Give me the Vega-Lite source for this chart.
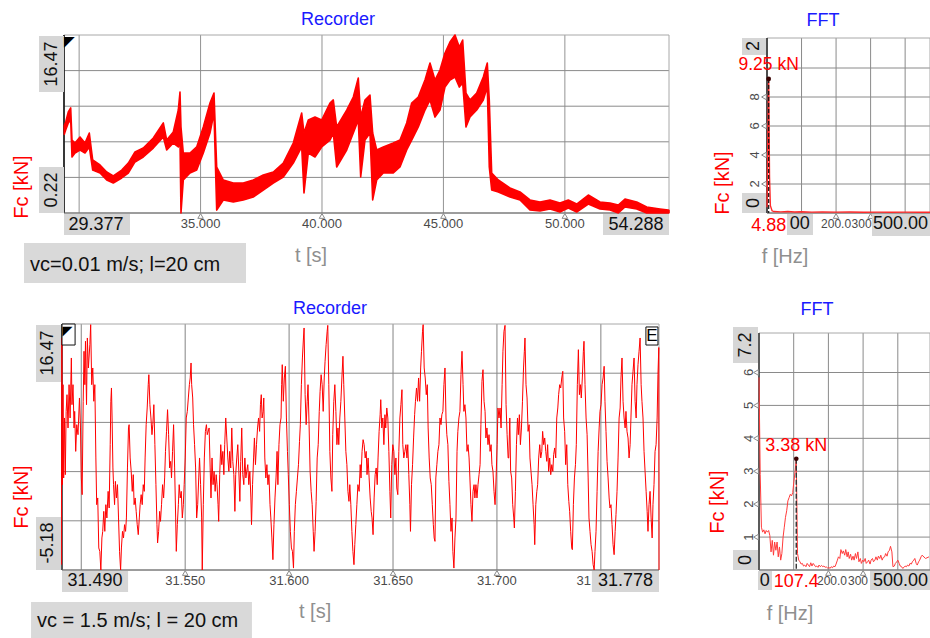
{
  "$schema": "https://vega.github.io/schema/vega-lite/v6.json",
  "width": 930,
  "height": 638,
  "autosize": "none",
  "padding": 0,
  "background": "white",
  "config": {
    "view": {"stroke": null},
    "font": "Liberation Sans"
  },
  "data": {"values": [{}]},
  "datasets": {
    "rec1": [
      {"t":29.390,"lo":7.40,"hi":8.20},{"t":29.447,"lo":7.80,"hi":8.53},{"t":29.554,"lo":8.44,"hi":9.44},{"t":29.653,"lo":8.71,"hi":9.81},
      {"t":29.706,"lo":5.33,"hi":6.88},{"t":29.830,"lo":5.70,"hi":6.61},{"t":30.036,"lo":5.97,"hi":7.16},{"t":30.242,"lo":5.70,"hi":6.61},
      {"t":30.419,"lo":6.25,"hi":7.52},{"t":30.559,"lo":4.14,"hi":5.06},{"t":30.859,"lo":3.87,"hi":4.60},{"t":31.135,"lo":3.23,"hi":3.96},
      {"t":31.407,"lo":2.96,"hi":3.60},{"t":31.753,"lo":3.42,"hi":4.14},{"t":32.024,"lo":3.87,"hi":4.78},{"t":32.300,"lo":4.88,"hi":5.79},
      {"t":32.642,"lo":5.33,"hi":6.15},{"t":33.054,"lo":6.15,"hi":7.07},{"t":33.466,"lo":7.16,"hi":8.44},{"t":33.606,"lo":5.97,"hi":6.88},
      {"t":33.877,"lo":6.61,"hi":7.61},{"t":34.083,"lo":6.25,"hi":9.62},{"t":34.153,"lo":6.88,"hi":11.27},{"t":34.194,"lo":0.22,"hi":8.07},
      {"t":34.289,"lo":3.23,"hi":5.70},{"t":34.565,"lo":3.87,"hi":5.70},{"t":34.841,"lo":4.14,"hi":6.25},{"t":35.113,"lo":5.70,"hi":8.07},
      {"t":35.388,"lo":7.52,"hi":10.26},{"t":35.553,"lo":9.35,"hi":11.17},{"t":35.664,"lo":0.49,"hi":4.42},{"t":35.936,"lo":1.41,"hi":3.23},
      {"t":36.348,"lo":1.22,"hi":2.96},{"t":36.759,"lo":1.41,"hi":2.96},{"t":37.171,"lo":1.68,"hi":3.23},{"t":37.583,"lo":2.32,"hi":3.69},
      {"t":37.995,"lo":2.96,"hi":3.96},{"t":38.406,"lo":3.51,"hi":4.78},{"t":38.818,"lo":4.78,"hi":6.61},{"t":39.164,"lo":6.25,"hi":9.35},
      {"t":39.259,"lo":2.05,"hi":7.52},{"t":39.436,"lo":5.70,"hi":8.71},{"t":39.712,"lo":5.33,"hi":8.98},{"t":39.987,"lo":6.25,"hi":8.71},
      {"t":40.329,"lo":6.88,"hi":10.26},{"t":40.465,"lo":7.52,"hi":10.54},{"t":40.605,"lo":4.42,"hi":8.07},{"t":41.017,"lo":5.97,"hi":9.62},
      {"t":41.289,"lo":7.52,"hi":10.81},{"t":41.494,"lo":8.71,"hi":12.54},{"t":41.593,"lo":3.51,"hi":8.98},{"t":41.770,"lo":6.88,"hi":10.54},
      {"t":41.976,"lo":7.52,"hi":10.99},{"t":42.087,"lo":1.41,"hi":7.52},{"t":42.252,"lo":3.23,"hi":5.97},{"t":42.524,"lo":3.87,"hi":6.25},
      {"t":42.935,"lo":3.87,"hi":6.61},{"t":43.211,"lo":4.42,"hi":6.88},{"t":43.487,"lo":5.97,"hi":8.44},{"t":43.693,"lo":6.88,"hi":10.26},
      {"t":43.965,"lo":8.07,"hi":10.81},{"t":44.241,"lo":9.62,"hi":12.36},{"t":44.447,"lo":10.54,"hi":13.91},{"t":44.652,"lo":8.98,"hi":12.36},
      {"t":44.858,"lo":9.62,"hi":13.27},{"t":45.064,"lo":11.72,"hi":14.83},{"t":45.270,"lo":12.36,"hi":15.83},{"t":45.476,"lo":12.64,"hi":16.47},
      {"t":45.653,"lo":11.72,"hi":15.37},{"t":45.793,"lo":12.09,"hi":16.01},{"t":45.929,"lo":8.07,"hi":11.17},{"t":46.094,"lo":8.98,"hi":10.54},
      {"t":46.370,"lo":9.62,"hi":11.17},{"t":46.641,"lo":10.54,"hi":12.64},{"t":46.806,"lo":11.72,"hi":13.91},{"t":46.888,"lo":4.42,"hi":10.54},
      {"t":46.987,"lo":2.32,"hi":3.87},{"t":47.259,"lo":2.14,"hi":3.23},{"t":47.741,"lo":1.68,"hi":2.50},{"t":48.153,"lo":1.41,"hi":2.14},
      {"t":48.564,"lo":0.49,"hi":1.41},{"t":48.976,"lo":0.40,"hi":1.22},{"t":49.388,"lo":0.59,"hi":1.41},{"t":49.799,"lo":0.31,"hi":1.13},
      {"t":50.141,"lo":0.68,"hi":1.41},{"t":50.487,"lo":0.31,"hi":1.04},{"t":50.965,"lo":1.04,"hi":1.86},{"t":51.446,"lo":0.59,"hi":1.22},
      {"t":51.858,"lo":0.49,"hi":1.13},{"t":52.200,"lo":0.22,"hi":0.95},{"t":52.476,"lo":0.77,"hi":1.50},{"t":52.958,"lo":0.59,"hi":1.22},
      {"t":53.369,"lo":0.22,"hi":0.77},{"t":53.917,"lo":0.22,"hi":0.59},{"t":54.259,"lo":0.22,"hi":0.49},{"t":54.288,"lo":0.25,"hi":0.45}
    ],
    "fft1": [
      {"f":0,"amp":0.4},{"f":2.44,"amp":5.0},{"f":4.88,"amp":9.25},{"f":7.32,"amp":2.5},{"f":9.77,"amp":0.5},{"f":14.65,"amp":0.15},
      {"f":20,"amp":0.1},{"f":40,"amp":0.08},{"f":60,"amp":0.1},{"f":80,"amp":0.07},{"f":100,"amp":0.09},{"f":130,"amp":0.06},
      {"f":160,"amp":0.08},{"f":200,"amp":0.06},{"f":240,"amp":0.07},{"f":280,"amp":0.05},{"f":320,"amp":0.06},{"f":360,"amp":0.05},
      {"f":400,"amp":0.06},{"f":440,"amp":0.05},{"f":472,"amp":0.05}
    ],
    "cur1": [{"f":4.88,"amp":9.25,"base":0,"label":"9.25 kN"}],
    "cur2": [{"f":107.4,"amp":3.38,"base":0,"label":"3.38 kN"}],
    "fft2": [
      {"f":0,"amp":5.85},{"f":3.5,"amp":2.9},{"f":7,"amp":1.3},{"f":10.4,"amp":1.15},{"f":13.9,"amp":1.22},{"f":17.4,"amp":1.1},
      {"f":20.8,"amp":1.2},{"f":24.3,"amp":1.15},{"f":27.8,"amp":1.2},{"f":31.2,"amp":1.05},{"f":34.7,"amp":0.55},{"f":38.2,"amp":0.9},
      {"f":41.7,"amp":0.45},{"f":45.1,"amp":0.85},{"f":48.6,"amp":0.6},{"f":52.1,"amp":0.85},{"f":55.5,"amp":0.4},{"f":59,"amp":0.7},
      {"f":62.5,"amp":0.3},{"f":65.9,"amp":0.5},{"f":69.4,"amp":1.0},{"f":72.9,"amp":1.3},{"f":76.3,"amp":1.6},{"f":79.8,"amp":1.8},
      {"f":83.3,"amp":2.1},{"f":86.8,"amp":2.2},{"f":90.2,"amp":2.3},{"f":93.7,"amp":2.25},{"f":97.2,"amp":2.35},{"f":100.6,"amp":2.7},
      {"f":104.1,"amp":3.0},{"f":107.4,"amp":3.38},{"f":111,"amp":0.5},{"f":114.5,"amp":0.3},{"f":118,"amp":0.25},{"f":121.4,"amp":0.18},
      {"f":124.9,"amp":0.2},{"f":128.4,"amp":0.12},{"f":131.8,"amp":0.15},{"f":135.3,"amp":0.1},{"f":138.8,"amp":0.2},{"f":142.2,"amp":0.15},
      {"f":145.7,"amp":0.1},{"f":149.2,"amp":0.22},{"f":152.6,"amp":0.12},{"f":156.1,"amp":0.2},{"f":159.6,"amp":0.15},{"f":163,"amp":0.1},
      {"f":166.5,"amp":0.12},{"f":170,"amp":0.08},{"f":173,"amp":0.15},{"f":177,"amp":0.1},{"f":180,"amp":0.14},{"f":184,"amp":0.1},
      {"f":187,"amp":0.12},{"f":191,"amp":0.08},{"f":194,"amp":0.1},{"f":198,"amp":0.05},{"f":201,"amp":0.08},{"f":205,"amp":0.05},
      {"f":208,"amp":0.1},{"f":212,"amp":0.07},{"f":215,"amp":0.12},{"f":219,"amp":0.1},{"f":222,"amp":0.18},{"f":226,"amp":0.3},
      {"f":229,"amp":0.4},{"f":233,"amp":0.35},{"f":236,"amp":0.62},{"f":240,"amp":0.5},{"f":243,"amp":0.58},{"f":247,"amp":0.45},
      {"f":250,"amp":0.62},{"f":254,"amp":0.4},{"f":257,"amp":0.55},{"f":260,"amp":0.35},{"f":264,"amp":0.48},{"f":267,"amp":0.3},
      {"f":271,"amp":0.42},{"f":274,"amp":0.3},{"f":278,"amp":0.5},{"f":281,"amp":0.35},{"f":285,"amp":0.55},{"f":288,"amp":0.25},
      {"f":292,"amp":0.35},{"f":295,"amp":0.2},{"f":299,"amp":0.3},{"f":302,"amp":0.25},{"f":306,"amp":0.35},{"f":309,"amp":0.2},
      {"f":313,"amp":0.25},{"f":316,"amp":0.3},{"f":320,"amp":0.18},{"f":323,"amp":0.3},{"f":327,"amp":0.35},{"f":330,"amp":0.25},
      {"f":334,"amp":0.3},{"f":337,"amp":0.4},{"f":341,"amp":0.3},{"f":344,"amp":0.42},{"f":348,"amp":0.35},{"f":351,"amp":0.45},
      {"f":355,"amp":0.3},{"f":358,"amp":0.38},{"f":362,"amp":0.4},{"f":365,"amp":0.5},{"f":369,"amp":0.42},{"f":372,"amp":0.55},
      {"f":376,"amp":0.6},{"f":379,"amp":0.72},{"f":383,"amp":0.55},{"f":386,"amp":0.1},{"f":390,"amp":0.12},{"f":393,"amp":0.2},
      {"f":397,"amp":0.25},{"f":400,"amp":0.3},{"f":404,"amp":0.2},{"f":407,"amp":0.12},{"f":411,"amp":0.1},{"f":414,"amp":0.05},
      {"f":418,"amp":0.08},{"f":421,"amp":0.12},{"f":425,"amp":0.1},{"f":428,"amp":0.15},{"f":432,"amp":0.12},{"f":435,"amp":0.2},
      {"f":439,"amp":0.18},{"f":442,"amp":0.25},{"f":446,"amp":0.3},{"f":449,"amp":0.35},{"f":453,"amp":0.2},{"f":456,"amp":0.15},
      {"f":460,"amp":0.25},{"f":463,"amp":0.3},{"f":467,"amp":0.4},{"f":470,"amp":0.45},{"f":480,"amp":0.35},{"f":490,"amp":0.4}
    ],
    "rec2": [
      {"t":31.4904,"F":-4.71},{"t":31.4906,"F":15.24},{"t":31.4909,"F":2.33},{"t":31.4912,"F":11.13},{"t":31.4915,"F":2.92},{"t":31.4919,"F":8.20},
      {"t":31.4923,"F":3.21},{"t":31.4927,"F":8.78},{"t":31.4931,"F":10.25},{"t":31.4936,"F":7.32},{"t":31.4941,"F":11.13},{"t":31.4946,"F":8.20},
      {"t":31.4952,"F":13.48},{"t":31.4955,"F":9.37},{"t":31.4960,"F":11.13},{"t":31.4965,"F":7.32},{"t":31.4968,"F":8.78},{"t":31.4973,"F":5.26},
      {"t":31.4978,"F":7.61},{"t":31.4984,"F":6.73},{"t":31.4991,"F":9.96},{"t":31.4996,"F":7.32},{"t":31.5000,"F":2.92},{"t":31.5004,"F":1.45},
      {"t":31.5009,"F":9.67},{"t":31.5013,"F":14.07},{"t":31.5017,"F":11.13},{"t":31.5020,"F":14.95},{"t":31.5025,"F":9.37},{"t":31.5029,"F":15.24},
      {"t":31.5034,"F":12.60},{"t":31.5041,"F":14.65},{"t":31.5045,"F":16.41},{"t":31.5050,"F":11.13},{"t":31.5055,"F":12.60},{"t":31.5060,"F":9.67},
      {"t":31.5065,"F":11.13},{"t":31.5070,"F":4.68},{"t":31.5074,"F":0.57},{"t":31.5079,"F":1.16},{"t":31.5084,"F":-3.24},{"t":31.5089,"F":-3.54},
      {"t":31.5094,"F":-5.18},{"t":31.5099,"F":-2.36},{"t":31.5103,"F":-1.78},{"t":31.5108,"F":-0.02},{"t":31.5113,"F":-1.78},{"t":31.5118,"F":0.57},
      {"t":31.5123,"F":-0.60},{"t":31.5129,"F":1.74},{"t":31.5134,"F":0.28},{"t":31.5139,"F":5.85},{"t":31.5142,"F":9.67},{"t":31.5145,"F":10.84},
      {"t":31.5148,"F":8.20},{"t":31.5152,"F":3.80},{"t":31.5155,"F":2.33},{"t":31.5160,"F":0.57},{"t":31.5164,"F":2.62},{"t":31.5169,"F":1.16},
      {"t":31.5174,"F":2.33},{"t":31.5179,"F":-0.60},{"t":31.5184,"F":-3.54},{"t":31.5189,"F":-5.18},{"t":31.5193,"F":-3.24},{"t":31.5198,"F":-1.78},
      {"t":31.5203,"F":-2.36},{"t":31.5208,"F":-1.19},{"t":31.5213,"F":-1.78},{"t":31.5217,"F":-0.60},{"t":31.5222,"F":3.80},{"t":31.5227,"F":7.32},
      {"t":31.5230,"F":7.61},{"t":31.5235,"F":4.68},{"t":31.5240,"F":3.50},{"t":31.5245,"F":1.74},{"t":31.5250,"F":3.21},{"t":31.5254,"F":0.57},
      {"t":31.5259,"F":1.16},{"t":31.5264,"F":-0.02},{"t":31.5269,"F":-1.19},{"t":31.5274,"F":-2.07},{"t":31.5279,"F":-0.60},{"t":31.5283,"F":0.57},
      {"t":31.5288,"F":1.45},{"t":31.5293,"F":0.57},{"t":31.5298,"F":2.33},{"t":31.5303,"F":1.74},{"t":31.5307,"F":4.68},{"t":31.5312,"F":7.61},
      {"t":31.5317,"F":9.08},{"t":31.5322,"F":11.13},{"t":31.5325,"F":12.01},{"t":31.5330,"F":9.37},{"t":31.5335,"F":8.20},{"t":31.5340,"F":6.73},
      {"t":31.5344,"F":7.61},{"t":31.5349,"F":9.37},{"t":31.5354,"F":5.85},{"t":31.5359,"F":2.33},{"t":31.5364,"F":-1.19},{"t":31.5367,"F":-2.80},
      {"t":31.5372,"F":-1.78},{"t":31.5377,"F":-0.02},{"t":31.5381,"F":-0.90},{"t":31.5386,"F":0.57},{"t":31.5391,"F":2.33},{"t":31.5396,"F":1.16},
      {"t":31.5401,"F":2.92},{"t":31.5405,"F":5.26},{"t":31.5410,"F":7.02},{"t":31.5415,"F":8.93},{"t":31.5420,"F":6.73},{"t":31.5425,"F":3.80},
      {"t":31.5430,"F":4.38},{"t":31.5434,"F":2.92},{"t":31.5439,"F":5.26},{"t":31.5444,"F":7.61},{"t":31.5449,"F":3.80},{"t":31.5454,"F":-0.60},
      {"t":31.5457,"F":-3.54},{"t":31.5462,"F":-1.19},{"t":31.5467,"F":0.57},{"t":31.5471,"F":2.33},{"t":31.5476,"F":1.16},{"t":31.5481,"F":1.74},
      {"t":31.5486,"F":-0.60},{"t":31.5491,"F":0.57},{"t":31.5495,"F":2.33},{"t":31.5500,"F":4.68},{"t":31.5505,"F":8.20},{"t":31.5510,"F":8.78},
      {"t":31.5515,"F":9.96},{"t":31.5520,"F":11.13},{"t":31.5524,"F":11.72},{"t":31.5528,"F":13.04},{"t":31.5531,"F":11.13},{"t":31.5536,"F":9.96},
      {"t":31.5540,"F":7.61},{"t":31.5545,"F":5.85},{"t":31.5550,"F":3.80},{"t":31.5555,"F":-0.60},{"t":31.5560,"F":0.57},{"t":31.5565,"F":2.92},
      {"t":31.5569,"F":4.68},{"t":31.5574,"F":2.33},{"t":31.5579,"F":-0.60},{"t":31.5582,"F":-5.18},{"t":31.5587,"F":0.57},{"t":31.5592,"F":4.68},
      {"t":31.5597,"F":7.02},{"t":31.5602,"F":7.61},{"t":31.5606,"F":6.73},
      {"t":31.5615,"F":7.32},{"t":31.5620,"F":3.80},{"t":31.5624,"F":1.16},{"t":31.5629,"F":4.68},{"t":31.5634,"F":2.33},{"t":31.5639,"F":3.50},
      {"t":31.5644,"F":1.74},{"t":31.5649,"F":3.21},{"t":31.5653,"F":2.33},{"t":31.5658,"F":0.57},{"t":31.5661,"F":-0.90},{"t":31.5666,"F":3.21},
      {"t":31.5671,"F":5.85},{"t":31.5676,"F":4.09},{"t":31.5681,"F":5.26},{"t":31.5686,"F":3.21},{"t":31.5690,"F":5.85},{"t":31.5695,"F":8.20},
      {"t":31.5700,"F":6.44},{"t":31.5705,"F":4.68},{"t":31.5710,"F":3.50},{"t":31.5714,"F":5.26},{"t":31.5719,"F":3.80},{"t":31.5724,"F":7.32},
      {"t":31.5729,"F":4.38},{"t":31.5734,"F":3.21},{"t":31.5739,"F":-0.02},{"t":31.5743,"F":3.21},{"t":31.5748,"F":4.68},{"t":31.5753,"F":5.85},
      {"t":31.5758,"F":3.50},{"t":31.5763,"F":0.86},{"t":31.5767,"F":4.38},{"t":31.5772,"F":7.32},{"t":31.5777,"F":3.21},{"t":31.5782,"F":2.33},
      {"t":31.5787,"F":4.68},{"t":31.5792,"F":2.92},{"t":31.5796,"F":3.50},{"t":31.5801,"F":4.09},{"t":31.5806,"F":2.33},{"t":31.5811,"F":3.50},
      {"t":31.5816,"F":1.16},{"t":31.5819,"F":-1.19},{"t":31.5824,"F":2.33},{"t":31.5829,"F":4.68},{"t":31.5833,"F":6.44},{"t":31.5838,"F":4.09},
      {"t":31.5843,"F":5.85},{"t":31.5848,"F":7.32},{"t":31.5853,"F":8.20},{"t":31.5858,"F":7.02},{"t":31.5862,"F":9.37},{"t":31.5866,"F":10.25},
      {"t":31.5870,"F":8.20},{"t":31.5875,"F":8.78},{"t":31.5878,"F":9.96},{"t":31.5883,"F":4.68},{"t":31.5888,"F":2.92},{"t":31.5893,"F":4.09},
      {"t":31.5898,"F":2.33},{"t":31.5903,"F":3.21},{"t":31.5908,"F":0.57},{"t":31.5912,"F":-0.60},{"t":31.5917,"F":-2.36},{"t":31.5922,"F":-4.27},
      {"t":31.5927,"F":-1.19},{"t":31.5932,"F":1.16},{"t":31.5937,"F":2.92},{"t":31.5942,"F":5.26},{"t":31.5946,"F":2.33},{"t":31.5951,"F":5.85},
      {"t":31.5956,"F":7.61},{"t":31.5961,"F":8.20},{"t":31.5964,"F":11.13},{"t":31.5967,"F":12.89},{"t":31.5972,"F":9.67},{"t":31.5977,"F":11.72},
      {"t":31.5982,"F":12.75},{"t":31.5987,"F":8.20},{"t":31.5992,"F":5.26},{"t":31.5996,"F":3.21},{"t":31.6001,"F":0.57},{"t":31.6006,"F":-1.78},
      {"t":31.6011,"F":-3.24},{"t":31.6016,"F":-3.54},{"t":31.6021,"F":-5.01},{"t":31.6025,"F":-1.78},{"t":31.6030,"F":0.57},{"t":31.6035,"F":1.74},
      {"t":31.6040,"F":2.92},{"t":31.6045,"F":4.09},{"t":31.6050,"F":6.14},{"t":31.6054,"F":7.61},{"t":31.6059,"F":11.13},{"t":31.6064,"F":13.48},
      {"t":31.6069,"F":15.24},{"t":31.6072,"F":16.12},{"t":31.6077,"F":10.25},{"t":31.6082,"F":7.61},{"t":31.6087,"F":9.67},{"t":31.6091,"F":11.13},
      {"t":31.6096,"F":7.61},{"t":31.6101,"F":3.50},{"t":31.6106,"F":1.74},{"t":31.6111,"F":0.57},{"t":31.6116,"F":-1.78},{"t":31.6120,"F":-3.54},
      {"t":31.6125,"F":-1.78},{"t":31.6130,"F":0.86},{"t":31.6135,"F":4.68},{"t":31.6140,"F":5.85},{"t":31.6145,"F":8.78},{"t":31.6149,"F":10.54},
      {"t":31.6154,"F":12.01},{"t":31.6159,"F":11.13},{"t":31.6164,"F":8.78},{"t":31.6169,"F":11.72},{"t":31.6173,"F":13.19},{"t":31.6178,"F":14.65},
      {"t":31.6183,"F":15.83},{"t":31.6186,"F":16.35},{"t":31.6191,"F":11.13},{"t":31.6196,"F":5.26},{"t":31.6201,"F":2.92},{"t":31.6206,"F":1.74},
      {"t":31.6210,"F":6.73},{"t":31.6215,"F":9.67},{"t":31.6220,"F":11.13},{"t":31.6225,"F":8.78},{"t":31.6230,"F":5.85},{"t":31.6235,"F":7.32},
      {"t":31.6239,"F":5.85},{"t":31.6244,"F":8.20},{"t":31.6249,"F":9.67},{"t":31.6254,"F":11.72},{"t":31.6259,"F":13.63},{"t":31.6263,"F":11.13},
      {"t":31.6268,"F":8.20},{"t":31.6273,"F":5.26},{"t":31.6278,"F":4.09},{"t":31.6283,"F":1.74},{"t":31.6288,"F":0.86},{"t":31.6292,"F":2.33},
      {"t":31.6297,"F":0.57},{"t":31.6302,"F":-1.78},{"t":31.6307,"F":-3.54},{"t":31.6312,"F":-4.71},{"t":31.6316,"F":-2.95},{"t":31.6321,"F":-1.19},
      {"t":31.6326,"F":0.57},{"t":31.6331,"F":2.33},
      {"t":31.6337,"F":1.74},{"t":31.6342,"F":4.09},{"t":31.6346,"F":2.92},{"t":31.6351,"F":5.26},{"t":31.6356,"F":6.29},{"t":31.6361,"F":5.85},
      {"t":31.6366,"F":4.68},{"t":31.6371,"F":5.26},{"t":31.6375,"F":3.21},{"t":31.6380,"F":4.68},{"t":31.6385,"F":2.92},{"t":31.6390,"F":1.16},
      {"t":31.6395,"F":-0.02},{"t":31.6399,"F":-0.60},{"t":31.6404,"F":-2.07},{"t":31.6409,"F":1.16},{"t":31.6414,"F":3.21},{"t":31.6419,"F":3.80},
      {"t":31.6424,"F":2.33},{"t":31.6428,"F":4.68},{"t":31.6433,"F":7.02},{"t":31.6438,"F":8.49},{"t":31.6441,"F":9.81},{"t":31.6446,"F":7.32},
      {"t":31.6451,"F":8.20},{"t":31.6456,"F":5.85},{"t":31.6461,"F":8.49},{"t":31.6465,"F":7.32},{"t":31.6470,"F":9.08},{"t":31.6475,"F":8.20},
      {"t":31.6480,"F":5.26},{"t":31.6485,"F":1.74},{"t":31.6489,"F":-0.60},{"t":31.6494,"F":4.09},{"t":31.6499,"F":5.85},{"t":31.6504,"F":5.26},
      {"t":31.6509,"F":3.21},{"t":31.6514,"F":4.68},{"t":31.6518,"F":2.04},{"t":31.6523,"F":1.45},{"t":31.6528,"F":5.26},{"t":31.6533,"F":8.20},
      {"t":31.6538,"F":9.37},{"t":31.6543,"F":10.69},{"t":31.6547,"F":5.85},{"t":31.6552,"F":4.68},{"t":31.6557,"F":5.26},{"t":31.6562,"F":5.85},
      {"t":31.6567,"F":4.68},{"t":31.6571,"F":5.85},{"t":31.6576,"F":3.21},{"t":31.6581,"F":0.57},{"t":31.6584,"F":-1.78},{"t":31.6589,"F":2.33},
      {"t":31.6594,"F":4.09},{"t":31.6599,"F":6.44},{"t":31.6604,"F":8.49},{"t":31.6608,"F":9.67},{"t":31.6613,"F":10.84},{"t":31.6618,"F":9.67},
      {"t":31.6623,"F":11.72},{"t":31.6628,"F":9.67},{"t":31.6633,"F":12.60},{"t":31.6637,"F":14.07},{"t":31.6642,"F":15.83},{"t":31.6645,"F":16.41},
      {"t":31.6650,"F":12.60},{"t":31.6655,"F":11.72},{"t":31.6660,"F":10.25},{"t":31.6665,"F":11.13},{"t":31.6669,"F":7.32},{"t":31.6674,"F":4.68},
      {"t":31.6679,"F":2.92},{"t":31.6684,"F":2.33},{"t":31.6689,"F":0.57},{"t":31.6694,"F":-1.19},{"t":31.6698,"F":-2.36},{"t":31.6702,"F":-2.66},
      {"t":31.6706,"F":2.92},{"t":31.6711,"F":4.09},{"t":31.6716,"F":5.26},{"t":31.6721,"F":5.85},{"t":31.6726,"F":8.20},{"t":31.6731,"F":7.61},
      {"t":31.6735,"F":8.49},{"t":31.6740,"F":8.78},{"t":31.6745,"F":11.13},{"t":31.6750,"F":12.60},{"t":31.6755,"F":8.20},{"t":31.6759,"F":6.73},
      {"t":31.6764,"F":5.85},{"t":31.6769,"F":2.62},{"t":31.6774,"F":0.57},{"t":31.6779,"F":-1.78},{"t":31.6784,"F":-0.60},{"t":31.6788,"F":-3.54},
      {"t":31.6793,"F":-5.01},{"t":31.6798,"F":-2.36},{"t":31.6803,"F":-0.60},{"t":31.6808,"F":5.26},{"t":31.6812,"F":7.02},{"t":31.6817,"F":8.20},
      {"t":31.6822,"F":8.78},{"t":31.6827,"F":12.01},{"t":31.6832,"F":14.07},{"t":31.6837,"F":11.13},{"t":31.6841,"F":8.78},{"t":31.6846,"F":9.37},
      {"t":31.6851,"F":8.20},{"t":31.6856,"F":5.26},{"t":31.6861,"F":5.85},{"t":31.6866,"F":4.68},{"t":31.6870,"F":2.92},{"t":31.6875,"F":0.57},
      {"t":31.6880,"F":-0.90},{"t":31.6885,"F":1.74},{"t":31.6890,"F":2.33},{"t":31.6894,"F":1.16},{"t":31.6899,"F":2.33},{"t":31.6904,"F":1.16},
      {"t":31.6909,"F":2.33},{"t":31.6914,"F":3.21},{"t":31.6919,"F":4.09},{"t":31.6923,"F":7.61},{"t":31.6928,"F":11.43},{"t":31.6933,"F":12.45},
      {"t":31.6938,"F":9.67},{"t":31.6943,"F":8.78},{"t":31.6947,"F":6.44},{"t":31.6952,"F":7.32},{"t":31.6957,"F":5.85},{"t":31.6962,"F":6.73},
      {"t":31.6967,"F":5.26},{"t":31.6972,"F":5.85},{"t":31.6976,"F":4.09},{"t":31.6981,"F":3.50},{"t":31.6986,"F":1.74},{"t":31.6991,"F":0.57},
      {"t":31.6996,"F":2.92},{"t":31.7001,"F":5.85},{"t":31.7005,"F":9.08},{"t":31.7010,"F":8.20},{"t":31.7015,"F":9.08},{"t":31.7020,"F":7.32},
      {"t":31.7025,"F":11.13},{"t":31.7029,"F":14.07},{"t":31.7034,"F":15.83},{"t":31.7039,"F":16.35},{"t":31.7044,"F":9.37},{"t":31.7049,"F":6.73},
      {"t":31.7054,"F":4.68},
      {"t":31.7057,"F":4.68},{"t":31.7062,"F":8.20},{"t":31.7066,"F":3.50},{"t":31.7071,"F":2.92},{"t":31.7076,"F":0.57},{"t":31.7081,"F":-0.60},
      {"t":31.7084,"F":-1.48},{"t":31.7089,"F":1.74},{"t":31.7094,"F":5.85},{"t":31.7099,"F":8.20},{"t":31.7103,"F":6.73},{"t":31.7108,"F":8.49},
      {"t":31.7113,"F":5.85},{"t":31.7118,"F":7.32},{"t":31.7123,"F":9.67},{"t":31.7128,"F":12.60},{"t":31.7132,"F":14.07},{"t":31.7135,"F":15.24},
      {"t":31.7140,"F":11.13},{"t":31.7145,"F":9.96},{"t":31.7150,"F":7.02},{"t":31.7155,"F":7.61},{"t":31.7159,"F":4.68},{"t":31.7164,"F":3.50},
      {"t":31.7169,"F":2.33},{"t":31.7174,"F":0.57},{"t":31.7179,"F":-1.19},{"t":31.7182,"F":-2.95},{"t":31.7187,"F":0.57},{"t":31.7192,"F":1.74},
      {"t":31.7196,"F":2.33},{"t":31.7201,"F":4.68},{"t":31.7206,"F":5.85},{"t":31.7211,"F":4.68},{"t":31.7216,"F":5.26},{"t":31.7220,"F":7.02},
      {"t":31.7225,"F":5.85},{"t":31.7230,"F":6.44},{"t":31.7235,"F":5.26},{"t":31.7240,"F":4.38},{"t":31.7244,"F":5.85},{"t":31.7249,"F":3.50},
      {"t":31.7254,"F":4.68},{"t":31.7259,"F":3.21},{"t":31.7264,"F":4.09},{"t":31.7269,"F":3.50},{"t":31.7273,"F":4.97},{"t":31.7278,"F":5.56},
      {"t":31.7283,"F":4.68},{"t":31.7288,"F":8.20},{"t":31.7293,"F":9.08},{"t":31.7297,"F":10.25},{"t":31.7302,"F":11.13},{"t":31.7307,"F":10.84},
      {"t":31.7312,"F":11.72},{"t":31.7317,"F":12.31},{"t":31.7321,"F":8.20},{"t":31.7326,"F":7.02},{"t":31.7331,"F":4.09},{"t":31.7336,"F":5.85},
      {"t":31.7341,"F":2.33},{"t":31.7346,"F":0.86},{"t":31.7350,"F":-0.02},{"t":31.7355,"F":-1.78},{"t":31.7360,"F":-3.24},{"t":31.7363,"F":-3.39},
      {"t":31.7368,"F":0.57},{"t":31.7373,"F":2.92},{"t":31.7378,"F":4.09},{"t":31.7382,"F":5.85},{"t":31.7387,"F":11.13},{"t":31.7392,"F":14.21},
      {"t":31.7397,"F":10.25},{"t":31.7402,"F":11.13},{"t":31.7406,"F":9.96},{"t":31.7411,"F":11.72},{"t":31.7416,"F":14.07},{"t":31.7419,"F":14.95},
      {"t":31.7424,"F":11.13},{"t":31.7429,"F":8.20},{"t":31.7434,"F":6.73},{"t":31.7439,"F":2.92},{"t":31.7443,"F":-0.60},{"t":31.7448,"F":-1.78},
      {"t":31.7453,"F":-2.95},{"t":31.7458,"F":-3.54},{"t":31.7463,"F":-4.71},{"t":31.7468,"F":-5.18},{"t":31.7472,"F":-3.54},{"t":31.7477,"F":-1.78},
      {"t":31.7482,"F":1.74},{"t":31.7487,"F":5.26},{"t":31.7492,"F":7.32},{"t":31.7496,"F":8.78},{"t":31.7501,"F":9.37},{"t":31.7506,"F":11.13},
      {"t":31.7511,"F":11.72},{"t":31.7516,"F":12.75},{"t":31.7520,"F":9.67},{"t":31.7525,"F":7.02},{"t":31.7530,"F":4.38},{"t":31.7535,"F":2.92},
      {"t":31.7540,"F":1.16},{"t":31.7544,"F":0.28},{"t":31.7549,"F":0.57},{"t":31.7554,"F":-1.19},{"t":31.7559,"F":-2.95},{"t":31.7564,"F":-3.83},
      {"t":31.7569,"F":-1.78},{"t":31.7573,"F":-0.31},{"t":31.7578,"F":1.74},{"t":31.7583,"F":4.68},{"t":31.7588,"F":8.20},{"t":31.7593,"F":9.08},
      {"t":31.7597,"F":11.72},{"t":31.7602,"F":13.48},{"t":31.7607,"F":9.67},{"t":31.7612,"F":8.20},{"t":31.7617,"F":7.32},{"t":31.7621,"F":8.78},
      {"t":31.7626,"F":7.02},{"t":31.7631,"F":6.44},{"t":31.7636,"F":4.68},{"t":31.7641,"F":5.85},{"t":31.7645,"F":8.20},{"t":31.7650,"F":11.13},
      {"t":31.7655,"F":12.31},{"t":31.7660,"F":13.48},{"t":31.7665,"F":9.67},{"t":31.7670,"F":8.20},{"t":31.7674,"F":11.13},{"t":31.7679,"F":12.89},
      {"t":31.7684,"F":14.07},{"t":31.7689,"F":15.24},{"t":31.7694,"F":11.13},{"t":31.7698,"F":9.67},{"t":31.7703,"F":8.20},{"t":31.7708,"F":5.26},
      {"t":31.7713,"F":3.50},{"t":31.7718,"F":1.74},{"t":31.7723,"F":-0.02},{"t":31.7727,"F":-1.78},{"t":31.7732,"F":0.57},{"t":31.7737,"F":1.74},
      {"t":31.7742,"F":-0.60},{"t":31.7747,"F":-2.36},{"t":31.7751,"F":0.57},{"t":31.7756,"F":2.33},{"t":31.7761,"F":5.26},{"t":31.7766,"F":5.85},
      {"t":31.7771,"F":8.20},{"t":31.7775,"F":12.01},{"t":31.7779,"F":14.40},{"t":31.7780,"F":-5.18}
    ]
  },
  "layer": [
    {
      "layer": [
        {
          "data": {"values": [{"t":30},{"t":35},{"t":40},{"t":45},{"t":50}]},
          "mark": {"type": "rule", "color": "#939393"},
          "encoding": {
            "x": {"field": "t", "type": "quantitative",
                  "scale": {"domain": [29.377, 54.288], "range": [64, 669], "nice": false, "zero": false}, "axis": null},
            "y": {"datum": 0.22, "type": "quantitative",
                  "scale": {"domain": [0.22, 16.47], "range": [213, 35], "nice": false, "zero": false}, "axis": null},
            "y2": {"datum": 16.47}
          }
        },
        {
          "data": {"values": [{"F":3.47},{"F":6.72},{"F":9.97},{"F":13.22}]},
          "mark": {"type": "rule", "color": "#8a8a8a"},
          "encoding": {
            "y": {"field": "F", "type": "quantitative", "axis": null},
            "x": {"datum": 29.377, "type": "quantitative", "axis": null},
            "x2": {"datum": 54.288}
          }
        },
        {
          "mark": {"type": "rect", "fill": "none", "stroke": "#a8a8a8"},
          "encoding": {
            "x": {"datum": 29.377, "type": "quantitative", "axis": null}, "x2": {"datum": 54.288},
            "y": {"datum": 0.22, "type": "quantitative", "axis": null}, "y2": {"datum": 16.47}
          }
        },
        {
          "mark": {"type": "rule", "color": "#111111", "strokeWidth": 1.6},
          "encoding": {
            "x": {"datum": 29.377, "type": "quantitative", "axis": null},
            "y": {"datum": 0.22, "type": "quantitative", "axis": null}, "y2": {"datum": 16.47}
          }
        },
        {
          "mark": {"type": "rule", "color": "#666666"},
          "encoding": {
            "x": {"datum": 29.377, "type": "quantitative", "axis": null}, "x2": {"datum": 54.288},
            "y": {"datum": 0.22, "type": "quantitative", "axis": null}
          }
        },
        {
          "data": {"name": "rec1"},
          "mark": {"type": "area", "color": "#ff0000", "stroke": "#ff0000", "strokeWidth": 1.6, "strokeJoin": "round"},
          "encoding": {
            "x": {"field": "t", "type": "quantitative", "axis": null},
            "y": {"field": "hi", "type": "quantitative", "axis": null},
            "y2": {"field": "lo"}
          }
        },
        {
          "data": {"values": [{"t":35},{"t":40},{"t":45},{"t":50}]},
          "mark": {"type": "point", "shape": "triangle-up", "filled": false, "stroke": "#8a8a8a", "strokeWidth": 1, "size": 30, "opacity": 1},
          "encoding": {
            "x": {"field": "t", "type": "quantitative", "axis": null},
            "y": {"datum": -0.054, "type": "quantitative", "axis": null}
          }
        },
        {
          "data": {"values": [{"t":35},{"t":40},{"t":45},{"t":50}]},
          "mark": {"type": "text", "fontSize": 13, "color": "#4a4a4a", "align": "center", "baseline": "top", "dy": 5},
          "encoding": {
            "x": {"field": "t", "type": "quantitative", "axis": null},
            "y": {"datum": 0.22, "type": "quantitative", "axis": null},
            "text": {"field": "t", "type": "quantitative", "format": ".3f"}
          }
        },
        {
          "mark": {"type": "rect", "fill": "#d6d6d6"},
          "encoding": {"x": {"datum": 28.348, "type": "quantitative", "axis": null}, "x2": {"datum": 29.377},
                       "y": {"datum": 11.27, "type": "quantitative", "axis": null}, "y2": {"datum": 16.38}}
        },
        {
          "mark": {"type": "text", "text": "16.47", "fontSize": 18, "color": "#111111", "angle": 270, "align": "center", "baseline": "middle"},
          "encoding": {"x": {"datum": 28.883, "type": "quantitative", "axis": null}, "y": {"datum": 13.82, "type": "quantitative", "axis": null}}
        },
        {
          "mark": {"type": "rect", "fill": "#d6d6d6"},
          "encoding": {"x": {"datum": 28.348, "type": "quantitative", "axis": null}, "x2": {"datum": 29.377},
                       "y": {"datum": 0.22, "type": "quantitative", "axis": null}, "y2": {"datum": 4.42}}
        },
        {
          "mark": {"type": "text", "text": "0.22", "fontSize": 18, "color": "#111111", "angle": 270, "align": "center", "baseline": "middle"},
          "encoding": {"x": {"datum": 28.883, "type": "quantitative", "axis": null}, "y": {"datum": 2.32, "type": "quantitative", "axis": null}}
        },
        {
          "mark": {"type": "rect", "fill": "#d6d6d6"},
          "encoding": {"x": {"datum": 29.377, "type": "quantitative", "axis": null}, "x2": {"datum": 32.095},
                       "y": {"datum": -1.788, "type": "quantitative", "axis": null}, "y2": {"datum": 0.129}}
        },
        {
          "mark": {"type": "text", "text": "29.377", "fontSize": 18, "color": "#111111", "align": "center", "baseline": "middle"},
          "encoding": {"x": {"datum": 30.695, "type": "quantitative", "axis": null}, "y": {"datum": -0.876, "type": "quantitative", "axis": null}}
        },
        {
          "mark": {"type": "rect", "fill": "#d6d6d6"},
          "encoding": {"x": {"datum": 51.57, "type": "quantitative", "axis": null}, "x2": {"datum": 54.288},
                       "y": {"datum": -1.788, "type": "quantitative", "axis": null}, "y2": {"datum": 0.129}}
        },
        {
          "mark": {"type": "text", "text": "54.288", "fontSize": 18, "color": "#111111", "align": "center", "baseline": "middle"},
          "encoding": {"x": {"datum": 52.929, "type": "quantitative", "axis": null}, "y": {"datum": -0.876, "type": "quantitative", "axis": null}}
        },
        {
          "mark": {"type": "text", "text": "◤", "font": "DejaVu Sans", "fontSize": 14, "color": "#000000", "align": "left", "baseline": "top"},
          "encoding": {"x": {"datum": 29.377, "type": "quantitative", "axis": null}, "y": {"datum": 16.47, "type": "quantitative", "axis": null}}
        },
        {
          "mark": {"type": "text", "text": "Recorder", "fontSize": 18, "color": "#1a1aff", "align": "center", "baseline": "middle"},
          "encoding": {"x": {"datum": 40.659, "type": "quantitative", "axis": null}, "y": {"datum": 17.84, "type": "quantitative", "axis": null}}
        },
        {
          "mark": {"type": "text", "text": "t [s]", "fontSize": 20, "color": "#8f8f8f", "align": "center", "baseline": "middle"},
          "encoding": {"x": {"datum": 39.547, "type": "quantitative", "axis": null}, "y": {"datum": -3.706, "type": "quantitative", "axis": null}}
        },
        {
          "mark": {"type": "text", "text": "Fᴄ [kN]", "fontSize": 20, "color": "#ff0000", "angle": 270, "align": "center", "baseline": "middle"},
          "encoding": {"x": {"datum": 27.648, "type": "quantitative", "axis": null}, "y": {"datum": 2.594, "type": "quantitative", "axis": null}}
        },
        {
          "mark": {"type": "rect", "fill": "#d9d9d9"},
          "encoding": {"x": {"datum": 27.73, "type": "quantitative", "axis": null}, "x2": {"datum": 36.871},
                       "y": {"datum": -6.17, "type": "quantitative", "axis": null}, "y2": {"datum": -2.519}}
        },
        {
          "mark": {"type": "text", "text": "vᴄ=0.01 m/s; l=20 cm", "fontSize": 20, "color": "#111111", "align": "left", "baseline": "middle"},
          "encoding": {"x": {"datum": 27.977, "type": "quantitative", "axis": null}, "y": {"datum": -4.527, "type": "quantitative", "axis": null}}
        }
      ]
    },
    {
      "layer": [
        {
          "data": {"values": [{"f":100},{"f":200},{"f":300},{"f":400}]},
          "mark": {"type": "rule", "color": "#8a8a8a"},
          "encoding": {
            "x": {"field": "f", "type": "quantitative",
                  "scale": {"domain": [0, 472], "range": [767, 930], "nice": false, "zero": false}, "axis": null},
            "y": {"datum": 0, "type": "quantitative",
                  "scale": {"domain": [0, 12.07], "range": [213, 38], "nice": false, "zero": false}, "axis": null},
            "y2": {"datum": 12.07}
          }
        },
        {
          "data": {"values": [{"amp":2},{"amp":4},{"amp":6},{"amp":8},{"amp":10}]},
          "mark": {"type": "rule", "color": "#8a8a8a"},
          "encoding": {
            "y": {"field": "amp", "type": "quantitative", "axis": null},
            "x": {"datum": 0, "type": "quantitative", "axis": null},
            "x2": {"datum": 472}
          }
        },
        {
          "mark": {"type": "rect", "fill": "none", "stroke": "#a8a8a8"},
          "encoding": {
            "x": {"datum": 0, "type": "quantitative", "axis": null}, "x2": {"datum": 472},
            "y": {"datum": 0, "type": "quantitative", "axis": null}, "y2": {"datum": 12.07}
          }
        },
        {
          "mark": {"type": "rule", "color": "#222222", "strokeWidth": 1.5},
          "encoding": {
            "x": {"datum": 0, "type": "quantitative", "axis": null},
            "y": {"datum": 0, "type": "quantitative", "axis": null}, "y2": {"datum": 12.07}
          }
        },
        {
          "mark": {"type": "rule", "color": "#666666"},
          "encoding": {
            "x": {"datum": 0, "type": "quantitative", "axis": null}, "x2": {"datum": 472},
            "y": {"datum": 0, "type": "quantitative", "axis": null}
          }
        },
        {
          "data": {"values": [{"amp":2},{"amp":4},{"amp":6},{"amp":8}]},
          "mark": {"type": "point", "shape": "triangle-left", "filled": false, "stroke": "#8a8a8a", "strokeWidth": 1, "size": 30, "opacity": 1},
          "encoding": {
            "x": {"datum": -8.7, "type": "quantitative", "axis": null},
            "y": {"field": "amp", "type": "quantitative", "axis": null}
          }
        },
        {
          "data": {"values": [{"amp":2},{"amp":4},{"amp":6},{"amp":8}]},
          "mark": {"type": "text", "fontSize": 13, "color": "#4a4a4a", "angle": 270, "align": "center", "baseline": "middle"},
          "encoding": {
            "x": {"datum": -34.75, "type": "quantitative", "axis": null},
            "y": {"field": "amp", "type": "quantitative", "axis": null},
            "text": {"field": "amp", "type": "quantitative"}
          }
        },
        {
          "data": {"values": [{"f":200},{"f":300}]},
          "mark": {"type": "point", "shape": "triangle-up", "filled": false, "stroke": "#8a8a8a", "strokeWidth": 1, "size": 30, "opacity": 1},
          "encoding": {
            "x": {"field": "f", "type": "quantitative", "axis": null},
            "y": {"datum": -0.207, "type": "quantitative", "axis": null}
          }
        },
        {
          "mark": {"type": "text", "text": "200.0", "fontSize": 12, "color": "#4a4a4a", "align": "center", "baseline": "top", "dy": 6},
          "encoding": {"x": {"datum": 200, "type": "quantitative", "axis": null}, "y": {"datum": 0, "type": "quantitative", "axis": null}}
        },
        {
          "mark": {"type": "text", "text": "300", "fontSize": 12, "color": "#4a4a4a", "align": "right", "baseline": "top", "dy": 6, "dx": 1},
          "encoding": {"x": {"datum": 300, "type": "quantitative", "axis": null}, "y": {"datum": 0, "type": "quantitative", "axis": null}}
        },
        {
          "data": {"name": "fft1"},
          "mark": {"type": "line", "color": "#ff2a2a", "strokeWidth": 1.4},
          "encoding": {
            "x": {"field": "f", "type": "quantitative", "axis": null},
            "y": {"field": "amp", "type": "quantitative", "axis": null}
          }
        },
        {
          "data": {"name": "cur1"},
          "mark": {"type": "rule", "color": "#111111", "strokeDash": [4, 2], "strokeWidth": 1.2},
          "encoding": {
            "x": {"field": "f", "type": "quantitative", "axis": null},
            "y": {"field": "amp", "type": "quantitative", "axis": null},
            "y2": {"field": "base"}
          }
        },
        {
          "data": {"name": "cur1"},
          "mark": {"type": "point", "filled": true, "color": "#3a0000", "size": 22, "opacity": 1},
          "encoding": {
            "x": {"field": "f", "type": "quantitative", "axis": null},
            "y": {"field": "amp", "type": "quantitative", "axis": null}
          }
        },
        {
          "data": {"name": "cur1"},
          "mark": {"type": "text", "fontSize": 17.5, "color": "#ff0000", "align": "center", "baseline": "bottom", "dy": -5},
          "encoding": {
            "x": {"field": "f", "type": "quantitative", "axis": null},
            "y": {"field": "amp", "type": "quantitative", "axis": null},
            "text": {"field": "label", "type": "nominal"}
          }
        },
        {
          "mark": {"type": "rect", "fill": "#d6d6d6"},
          "encoding": {"x": {"datum": -72.4, "type": "quantitative", "axis": null}, "x2": {"datum": -2.9},
                       "y": {"datum": 10.9, "type": "quantitative", "axis": null}, "y2": {"datum": 12.07}}
        },
        {
          "mark": {"type": "text", "text": "2", "fontSize": 18, "color": "#111111", "angle": 270, "align": "center", "baseline": "middle"},
          "encoding": {"x": {"datum": -37.6, "type": "quantitative", "axis": null}, "y": {"datum": 11.52, "type": "quantitative", "axis": null}}
        },
        {
          "mark": {"type": "rect", "fill": "#d6d6d6"},
          "encoding": {"x": {"datum": -72.4, "type": "quantitative", "axis": null}, "x2": {"datum": -2.9},
                       "y": {"datum": 0, "type": "quantitative", "axis": null}, "y2": {"datum": 1.38}}
        },
        {
          "mark": {"type": "text", "text": "0", "fontSize": 18, "color": "#111111", "angle": 270, "align": "center", "baseline": "middle"},
          "encoding": {"x": {"datum": -37.6, "type": "quantitative", "axis": null}, "y": {"datum": 0.69, "type": "quantitative", "axis": null}}
        },
        {
          "mark": {"type": "rect", "fill": "#d6d6d6"},
          "encoding": {"x": {"datum": 57.9, "type": "quantitative", "axis": null}, "x2": {"datum": 133.2},
                       "y": {"datum": -1.517, "type": "quantitative", "axis": null}, "y2": {"datum": -0.069}}
        },
        {
          "mark": {"type": "text", "text": "00", "fontSize": 18, "color": "#111111", "align": "center", "baseline": "middle"},
          "encoding": {"x": {"datum": 95.0, "type": "quantitative", "axis": null}, "y": {"datum": -0.76, "type": "quantitative", "axis": null}}
        },
        {
          "data": {"name": "cur1"},
          "mark": {"type": "text", "fontSize": 18, "color": "#ff0000", "align": "center", "baseline": "top", "dy": 4},
          "encoding": {
            "x": {"field": "f", "type": "quantitative", "axis": null},
            "y": {"field": "base", "type": "quantitative", "axis": null},
            "text": {"field": "f", "type": "quantitative", "format": ".2f"}
          }
        },
        {
          "mark": {"type": "rect", "fill": "#d6d6d6"},
          "encoding": {"x": {"datum": 304.1, "type": "quantitative", "axis": null}, "x2": {"datum": 472},
                       "y": {"datum": -1.586, "type": "quantitative", "axis": null}, "y2": {"datum": -0.069}}
        },
        {
          "mark": {"type": "text", "text": "500.00", "fontSize": 18, "color": "#111111", "align": "right", "baseline": "middle"},
          "encoding": {"x": {"datum": 466.3, "type": "quantitative", "axis": null}, "y": {"datum": -0.76, "type": "quantitative", "axis": null}}
        },
        {
          "mark": {"type": "text", "text": "FFT", "fontSize": 18, "color": "#1a1aff", "align": "center", "baseline": "middle"},
          "encoding": {"x": {"datum": 162.2, "type": "quantitative", "axis": null}, "y": {"datum": 13.24, "type": "quantitative", "axis": null}}
        },
        {
          "mark": {"type": "text", "text": "f [Hz]", "fontSize": 20, "color": "#8f8f8f", "align": "center", "baseline": "middle"},
          "encoding": {"x": {"datum": 52.1, "type": "quantitative", "axis": null}, "y": {"datum": -3.03, "type": "quantitative", "axis": null}}
        },
        {
          "mark": {"type": "text", "text": "Fᴄ [kN]", "fontSize": 20, "color": "#ff0000", "angle": 270, "align": "center", "baseline": "middle"},
          "encoding": {"x": {"datum": -127.4, "type": "quantitative", "axis": null}, "y": {"datum": 2.07, "type": "quantitative", "axis": null}}
        }
      ]
    },
    {
      "layer": [
        {
          "data": {"values": [{"t":31.5},{"t":31.55},{"t":31.6},{"t":31.65},{"t":31.7},{"t":31.75}]},
          "mark": {"type": "rule", "color": "#a0a0a0", "strokeWidth": 1.3},
          "encoding": {
            "x": {"field": "t", "type": "quantitative",
                  "scale": {"domain": [31.4907, 31.778], "range": [62, 659], "nice": false, "zero": false}, "axis": null},
            "y": {"datum": -5.18, "type": "quantitative",
                  "scale": {"domain": [-5.18, 16.47], "range": [570, 324], "nice": false, "zero": false}, "axis": null},
            "y2": {"datum": 16.47}
          }
        },
        {
          "data": {"values": [{"F":-0.85},{"F":3.48},{"F":7.81},{"F":12.14}]},
          "mark": {"type": "rule", "color": "#8a8a8a"},
          "encoding": {
            "y": {"field": "F", "type": "quantitative", "axis": null},
            "x": {"datum": 31.4907, "type": "quantitative", "axis": null},
            "x2": {"datum": 31.778}
          }
        },
        {
          "mark": {"type": "rect", "fill": "none", "stroke": "#a8a8a8"},
          "encoding": {
            "x": {"datum": 31.4907, "type": "quantitative", "axis": null}, "x2": {"datum": 31.778},
            "y": {"datum": -5.18, "type": "quantitative", "axis": null}, "y2": {"datum": 16.47}
          }
        },
        {
          "mark": {"type": "rule", "color": "#333333", "strokeWidth": 1.5},
          "encoding": {
            "x": {"datum": 31.4907, "type": "quantitative", "axis": null},
            "y": {"datum": -5.18, "type": "quantitative", "axis": null}, "y2": {"datum": 16.47}
          }
        },
        {
          "mark": {"type": "rule", "color": "#666666"},
          "encoding": {
            "x": {"datum": 31.4907, "type": "quantitative", "axis": null}, "x2": {"datum": 31.778},
            "y": {"datum": -5.18, "type": "quantitative", "axis": null}
          }
        },
        {
          "data": {"name": "rec2"},
          "mark": {"type": "line", "color": "#ff0000", "strokeWidth": 1},
          "encoding": {
            "x": {"field": "t", "type": "quantitative", "axis": null},
            "y": {"field": "F", "type": "quantitative", "axis": null}
          }
        },
        {
          "data": {"values": [{"t":31.55},{"t":31.6},{"t":31.65},{"t":31.7},{"t":31.75}]},
          "mark": {"type": "point", "shape": "triangle-up", "filled": false, "stroke": "#8a8a8a", "strokeWidth": 1, "size": 30, "opacity": 1},
          "encoding": {
            "x": {"field": "t", "type": "quantitative", "axis": null},
            "y": {"datum": -5.444, "type": "quantitative", "axis": null}
          }
        },
        {
          "data": {"values": [{"t":31.55},{"t":31.6},{"t":31.65},{"t":31.7}]},
          "mark": {"type": "text", "fontSize": 13, "color": "#4a4a4a", "align": "center", "baseline": "top", "dy": 5},
          "encoding": {
            "x": {"field": "t", "type": "quantitative", "axis": null},
            "y": {"datum": -5.18, "type": "quantitative", "axis": null},
            "text": {"field": "t", "type": "quantitative", "format": ".3f"}
          }
        },
        {
          "mark": {"type": "text", "text": "31", "fontSize": 13, "color": "#4a4a4a", "align": "right", "baseline": "top", "dy": 5, "dx": -1},
          "encoding": {"x": {"datum": 31.7457, "type": "quantitative", "axis": null}, "y": {"datum": -5.18, "type": "quantitative", "axis": null}}
        },
        {
          "mark": {"type": "rect", "fill": "#d6d6d6"},
          "encoding": {"x": {"datum": 31.4782, "type": "quantitative", "axis": null}, "x2": {"datum": 31.4902},
                       "y": {"datum": 11.365, "type": "quantitative", "axis": null}, "y2": {"datum": 16.38}}
        },
        {
          "mark": {"type": "text", "text": "16.47", "fontSize": 18, "color": "#111111", "angle": 270, "align": "center", "baseline": "middle"},
          "encoding": {"x": {"datum": 31.4842, "type": "quantitative", "axis": null}, "y": {"datum": 13.92, "type": "quantitative", "axis": null}}
        },
        {
          "mark": {"type": "rect", "fill": "#d6d6d6"},
          "encoding": {"x": {"datum": 31.4782, "type": "quantitative", "axis": null}, "x2": {"datum": 31.4902},
                       "y": {"datum": -5.18, "type": "quantitative", "axis": null}, "y2": {"datum": -0.516}}
        },
        {
          "mark": {"type": "text", "text": "-5.18", "fontSize": 18, "color": "#111111", "angle": 270, "align": "center", "baseline": "middle"},
          "encoding": {"x": {"datum": 31.4842, "type": "quantitative", "axis": null}, "y": {"datum": -2.804, "type": "quantitative", "axis": null}}
        },
        {
          "mark": {"type": "rect", "fill": "#d6d6d6"},
          "encoding": {"x": {"datum": 31.4907, "type": "quantitative", "axis": null}, "x2": {"datum": 31.5225},
                       "y": {"datum": -7.116, "type": "quantitative", "axis": null}, "y2": {"datum": -5.268}}
        },
        {
          "mark": {"type": "text", "text": "31.490", "fontSize": 18, "color": "#111111", "align": "center", "baseline": "middle"},
          "encoding": {"x": {"datum": 31.5066, "type": "quantitative", "axis": null}, "y": {"datum": -6.148, "type": "quantitative", "axis": null}}
        },
        {
          "mark": {"type": "rect", "fill": "#d6d6d6"},
          "encoding": {"x": {"datum": 31.7457, "type": "quantitative", "axis": null}, "x2": {"datum": 31.778},
                       "y": {"datum": -7.116, "type": "quantitative", "axis": null}, "y2": {"datum": -5.268}}
        },
        {
          "mark": {"type": "text", "text": "31.778", "fontSize": 18, "color": "#111111", "align": "center", "baseline": "middle"},
          "encoding": {"x": {"datum": 31.7619, "type": "quantitative", "axis": null}, "y": {"datum": -6.148, "type": "quantitative", "axis": null}}
        },
        {
          "mark": {"type": "rect", "fill": "#ffffff", "stroke": "#111111"},
          "encoding": {"x": {"datum": 31.4907, "type": "quantitative", "axis": null}, "x2": {"datum": 31.497},
                       "y": {"datum": 14.62, "type": "quantitative", "axis": null}, "y2": {"datum": 16.47}}
        },
        {
          "mark": {"type": "text", "text": "◤", "font": "DejaVu Sans", "fontSize": 13, "color": "#000000", "align": "left", "baseline": "top"},
          "encoding": {"x": {"datum": 31.4909, "type": "quantitative", "axis": null}, "y": {"datum": 16.4, "type": "quantitative", "axis": null}}
        },
        {
          "mark": {"type": "rect", "fill": "#ffffff", "stroke": "#111111"},
          "encoding": {"x": {"datum": 31.7717, "type": "quantitative", "axis": null}, "x2": {"datum": 31.7775},
                       "y": {"datum": 14.62, "type": "quantitative", "axis": null}, "y2": {"datum": 16.21}}
        },
        {
          "mark": {"type": "text", "text": "E", "fontSize": 17, "color": "#000000", "align": "center", "baseline": "middle"},
          "encoding": {"x": {"datum": 31.7746, "type": "quantitative", "axis": null}, "y": {"datum": 15.41, "type": "quantitative", "axis": null}}
        },
        {
          "mark": {"type": "text", "text": "Recorder", "fontSize": 18, "color": "#1a1aff", "align": "center", "baseline": "middle"},
          "encoding": {"x": {"datum": 31.6197, "type": "quantitative", "axis": null}, "y": {"datum": 17.79, "type": "quantitative", "axis": null}}
        },
        {
          "mark": {"type": "text", "text": "t [s]", "fontSize": 20, "color": "#8f8f8f", "align": "center", "baseline": "middle"},
          "encoding": {"x": {"datum": 31.6125, "type": "quantitative", "axis": null}, "y": {"datum": -8.876, "type": "quantitative", "axis": null}}
        },
        {
          "mark": {"type": "text", "text": "Fᴄ [kN]", "fontSize": 20, "color": "#ff0000", "angle": 270, "align": "center", "baseline": "middle"},
          "encoding": {"x": {"datum": 31.4715, "type": "quantitative", "axis": null}, "y": {"datum": 1.244, "type": "quantitative", "axis": null}}
        },
        {
          "mark": {"type": "rect", "fill": "#d9d9d9"},
          "encoding": {"x": {"datum": 31.4758, "type": "quantitative", "axis": null}, "x2": {"datum": 31.5821},
                       "y": {"datum": -11.164, "type": "quantitative", "axis": null}, "y2": {"datum": -7.996}}
        },
        {
          "mark": {"type": "text", "text": "vᴄ = 1.5 m/s; l = 20 cm", "fontSize": 20, "color": "#111111", "align": "left", "baseline": "middle"},
          "encoding": {"x": {"datum": 31.4787, "type": "quantitative", "axis": null}, "y": {"datum": -9.668, "type": "quantitative", "axis": null}}
        }
      ]
    },
    {
      "layer": [
        {
          "data": {"values": [{"f":100},{"f":200},{"f":300},{"f":400}]},
          "mark": {"type": "rule", "color": "#8a8a8a"},
          "encoding": {
            "x": {"field": "f", "type": "quantitative",
                  "scale": {"domain": [0, 492.8], "range": [759, 930], "nice": false, "zero": false}, "axis": null},
            "y": {"datum": 0, "type": "quantitative",
                  "scale": {"domain": [0, 7.2], "range": [570, 333], "nice": false, "zero": false}, "axis": null},
            "y2": {"datum": 7.2}
          }
        },
        {
          "data": {"values": [{"amp":1},{"amp":2},{"amp":3},{"amp":4},{"amp":5},{"amp":6}]},
          "mark": {"type": "rule", "color": "#8a8a8a"},
          "encoding": {
            "y": {"field": "amp", "type": "quantitative", "axis": null},
            "x": {"datum": 0, "type": "quantitative", "axis": null},
            "x2": {"datum": 492.8}
          }
        },
        {
          "mark": {"type": "rect", "fill": "none", "stroke": "#a8a8a8"},
          "encoding": {
            "x": {"datum": 0, "type": "quantitative", "axis": null}, "x2": {"datum": 492.8},
            "y": {"datum": 0, "type": "quantitative", "axis": null}, "y2": {"datum": 7.2}
          }
        },
        {
          "mark": {"type": "rule", "color": "#333333", "strokeWidth": 1.5},
          "encoding": {
            "x": {"datum": 0, "type": "quantitative", "axis": null},
            "y": {"datum": 0, "type": "quantitative", "axis": null}, "y2": {"datum": 7.2}
          }
        },
        {
          "mark": {"type": "rule", "color": "#666666"},
          "encoding": {
            "x": {"datum": 0, "type": "quantitative", "axis": null}, "x2": {"datum": 492.8},
            "y": {"datum": 0, "type": "quantitative", "axis": null}
          }
        },
        {
          "data": {"values": [{"amp":1},{"amp":2},{"amp":3},{"amp":4},{"amp":5},{"amp":6}]},
          "mark": {"type": "point", "shape": "triangle-left", "filled": false, "stroke": "#8a8a8a", "strokeWidth": 1, "size": 30, "opacity": 1},
          "encoding": {
            "x": {"datum": -8.6, "type": "quantitative", "axis": null},
            "y": {"field": "amp", "type": "quantitative", "axis": null}
          }
        },
        {
          "data": {"values": [{"amp":1},{"amp":2},{"amp":3},{"amp":4},{"amp":5},{"amp":6}]},
          "mark": {"type": "text", "fontSize": 13, "color": "#4a4a4a", "angle": 270, "align": "center", "baseline": "middle"},
          "encoding": {
            "x": {"datum": -27.4, "type": "quantitative", "axis": null},
            "y": {"field": "amp", "type": "quantitative", "axis": null},
            "text": {"field": "amp", "type": "quantitative"}
          }
        },
        {
          "data": {"values": [{"f":200},{"f":300}]},
          "mark": {"type": "point", "shape": "triangle-up", "filled": false, "stroke": "#8a8a8a", "strokeWidth": 1, "size": 30, "opacity": 1},
          "encoding": {
            "x": {"field": "f", "type": "quantitative", "axis": null},
            "y": {"datum": -0.091, "type": "quantitative", "axis": null}
          }
        },
        {
          "mark": {"type": "text", "text": "200.0", "fontSize": 12, "color": "#4a4a4a", "align": "center", "baseline": "top", "dy": 6},
          "encoding": {"x": {"datum": 210.4, "type": "quantitative", "axis": null}, "y": {"datum": 0, "type": "quantitative", "axis": null}}
        },
        {
          "mark": {"type": "text", "text": "300", "fontSize": 12, "color": "#4a4a4a", "align": "right", "baseline": "top", "dy": 6},
          "encoding": {"x": {"datum": 314.1, "type": "quantitative", "axis": null}, "y": {"datum": 0, "type": "quantitative", "axis": null}}
        },
        {
          "data": {"name": "fft2"},
          "mark": {"type": "line", "color": "#ff3b3b", "strokeWidth": 1},
          "encoding": {
            "x": {"field": "f", "type": "quantitative", "axis": null},
            "y": {"field": "amp", "type": "quantitative", "axis": null}
          }
        },
        {
          "data": {"name": "cur2"},
          "mark": {"type": "rule", "color": "#333333", "strokeDash": [5, 2], "strokeWidth": 1.4},
          "encoding": {
            "x": {"field": "f", "type": "quantitative", "axis": null},
            "y": {"field": "amp", "type": "quantitative", "axis": null},
            "y2": {"field": "base"}
          }
        },
        {
          "data": {"name": "cur2"},
          "mark": {"type": "point", "filled": true, "color": "#3a0000", "size": 22, "opacity": 1},
          "encoding": {
            "x": {"field": "f", "type": "quantitative", "axis": null},
            "y": {"field": "amp", "type": "quantitative", "axis": null}
          }
        },
        {
          "data": {"name": "cur2"},
          "mark": {"type": "text", "fontSize": 18, "color": "#ff0000", "align": "center", "baseline": "bottom", "dy": -4},
          "encoding": {
            "x": {"field": "f", "type": "quantitative", "axis": null},
            "y": {"field": "amp", "type": "quantitative", "axis": null},
            "text": {"field": "label", "type": "nominal"}
          }
        },
        {
          "mark": {"type": "rect", "fill": "#d6d6d6"},
          "encoding": {"x": {"datum": -74.9, "type": "quantitative", "axis": null}, "x2": {"datum": -2.9},
                       "y": {"datum": 6.288, "type": "quantitative", "axis": null}, "y2": {"datum": 7.382}}
        },
        {
          "mark": {"type": "text", "text": "7.2", "fontSize": 18, "color": "#111111", "angle": 270, "align": "center", "baseline": "middle"},
          "encoding": {"x": {"datum": -38.9, "type": "quantitative", "axis": null}, "y": {"datum": 6.835, "type": "quantitative", "axis": null}}
        },
        {
          "mark": {"type": "rect", "fill": "#d6d6d6"},
          "encoding": {"x": {"datum": -74.9, "type": "quantitative", "axis": null}, "x2": {"datum": -2.9},
                       "y": {"datum": 0, "type": "quantitative", "axis": null}, "y2": {"datum": 0.608}}
        },
        {
          "mark": {"type": "text", "text": "0", "fontSize": 18, "color": "#111111", "angle": 270, "align": "center", "baseline": "middle"},
          "encoding": {"x": {"datum": -38.9, "type": "quantitative", "axis": null}, "y": {"datum": 0.304, "type": "quantitative", "axis": null}}
        },
        {
          "mark": {"type": "rect", "fill": "#d6d6d6"},
          "encoding": {"x": {"datum": -2.9, "type": "quantitative", "axis": null}, "x2": {"datum": 37.5},
                       "y": {"datum": -0.608, "type": "quantitative", "axis": null}, "y2": {"datum": -0.03}}
        },
        {
          "mark": {"type": "text", "text": "0", "fontSize": 18, "color": "#111111", "align": "left", "baseline": "middle"},
          "encoding": {"x": {"datum": 2.0, "type": "quantitative", "axis": null}, "y": {"datum": -0.32, "type": "quantitative", "axis": null}}
        },
        {
          "data": {"name": "cur2"},
          "mark": {"type": "text", "fontSize": 18, "color": "#ff0000", "align": "center", "baseline": "top", "dy": 3},
          "encoding": {
            "x": {"field": "f", "type": "quantitative", "axis": null},
            "y": {"field": "base", "type": "quantitative", "axis": null},
            "text": {"field": "f", "type": "quantitative", "format": ".1f"}
          }
        },
        {
          "mark": {"type": "rect", "fill": "#d6d6d6"},
          "encoding": {"x": {"datum": 319.9, "type": "quantitative", "axis": null}, "x2": {"datum": 492.8},
                       "y": {"datum": -0.608, "type": "quantitative", "axis": null}, "y2": {"datum": -0.03}}
        },
        {
          "mark": {"type": "text", "text": "500.00", "fontSize": 18, "color": "#111111", "align": "right", "baseline": "middle"},
          "encoding": {"x": {"datum": 487.0, "type": "quantitative", "axis": null}, "y": {"datum": -0.32, "type": "quantitative", "axis": null}}
        },
        {
          "mark": {"type": "text", "text": "FFT", "fontSize": 18, "color": "#1a1aff", "align": "center", "baseline": "middle"},
          "encoding": {"x": {"datum": 167.1, "type": "quantitative", "axis": null}, "y": {"datum": 7.898, "type": "quantitative", "axis": null}}
        },
        {
          "mark": {"type": "text", "text": "f [Hz]", "fontSize": 20, "color": "#8f8f8f", "align": "center", "baseline": "middle"},
          "encoding": {"x": {"datum": 89.3, "type": "quantitative", "axis": null}, "y": {"datum": -1.337, "type": "quantitative", "axis": null}}
        },
        {
          "mark": {"type": "text", "text": "Fᴄ [kN]", "fontSize": 20, "color": "#ff0000", "angle": 270, "align": "center", "baseline": "middle"},
          "encoding": {"x": {"datum": -118.2, "type": "quantitative", "axis": null}, "y": {"datum": 2.066, "type": "quantitative", "axis": null}}
        }
      ]
    }
  ],
  "resolve": {"scale": {"x": "independent", "y": "independent"}, "axis": {"x": "independent", "y": "independent"}}
}
